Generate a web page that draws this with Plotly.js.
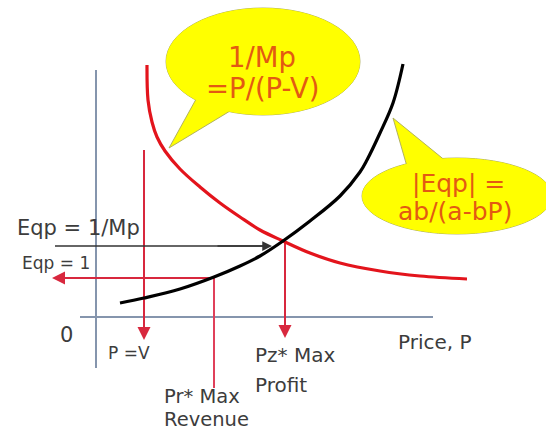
<!DOCTYPE html>
<html>
<head>
<meta charset="utf-8">
<script src="https://cdn.plot.ly/plotly-3.0.1.min.js"></script>
<style>html,body{margin:0;padding:0;background:#fff;}#chart{width:546px;height:431px;}</style>
</head>
<body>
<div id="chart"></div>
<script>
// Red curve: 1/Mp = P/(P-V)
const redP = [5.1, 5.2, 5.6, 6.1, 6.9, 8.4, 10.4, 12.4, 14.4, 16.4, 18.7, 21.4, 24.4, 28.4, 32.4, 37.1];
const redE = [25.2, 21.7, 19.5, 18.0, 16.6, 14.8, 13.0, 11.4, 10.0, 8.7, 7.6, 6.4, 5.4, 4.6, 4.1, 3.8];
// Black curve: |Eqp| = ab/(a-bP)
const blackP = [2.4, 4.8, 8.4, 11.8, 14.4, 16.4, 18.7, 21.4, 24.4, 26.4, 27.1, 28.4, 29.7, 30.7];
const blackE = [1.4, 1.9, 2.8, 4.0, 5.1, 6.1, 7.6, 9.6, 12.1, 14.5, 15.7, 18.4, 21.4, 25.3];
// Key prices and levels
const priceV = 4.8, pricePr = 11.8, pricePz = 18.9;
const levelMp = 7.1, levelOne = 3.9;
// Axis extents
const axisP = [-1.6, 33.7];
const axisE = [-5.1, 24.7];

const txt = '#3c3c3c';
const red = '#e3141c';
const arrowRed = '#d8283e';
const bubbleText = '#e35a12';
const font = '"DejaVu Sans", sans-serif';

const traces = [
  {x: [axisP[0], axisP[1]], y: [0, 0], mode: 'lines', line: {color: '#8595ad', width: 2}, hoverinfo: 'skip'},
  {x: [0, 0], y: [axisE[0], axisE[1]], mode: 'lines', line: {color: '#8595ad', width: 2}, hoverinfo: 'skip'},
  {x: [pricePr, pricePr], y: [levelOne, -7.1], mode: 'lines', line: {color: '#e0405a', width: 2}, hoverinfo: 'skip'},
  {x: [priceV, priceV], y: [16.7, -1.5], mode: 'lines', line: {color: arrowRed, width: 2}, hoverinfo: 'skip'},
  {x: [pricePz, pricePz], y: [7.4, -1.4], mode: 'lines', line: {color: arrowRed, width: 2}, hoverinfo: 'skip'},
  {x: [-4.1, 17.0], y: [levelMp, levelMp], mode: 'lines', line: {color: '#333', width: 1.5}, hoverinfo: 'skip'},
  {x: [pricePr, -3.6], y: [levelOne, levelOne], mode: 'lines', line: {color: arrowRed, width: 2}, hoverinfo: 'skip'},
  {x: redP, y: redE, mode: 'lines', line: {color: red, width: 3.2, shape: 'spline', smoothing: 1}, hoverinfo: 'skip'},
  {x: blackP, y: blackE, mode: 'lines', line: {color: '#000', width: 3.2, shape: 'spline', smoothing: 1}, hoverinfo: 'skip'}
];

function arrow(x, y, ax, ay, color, w) {
  return {x: x, y: y, ax: ax, ay: ay, xref: 'x', yref: 'y', axref: 'x', ayref: 'y',
    text: '', showarrow: true, arrowhead: 2, arrowsize: 1.3, arrowwidth: w, arrowcolor: color};
}
function label(text, x, y, size, color, anchor) {
  return {x: x, y: y, xref: 'x', yref: 'y', text: text, showarrow: false,
    xanchor: anchor || 'center', yanchor: 'middle', font: {family: font, size: size, color: color}};
}

const annotations = [
  arrow(priceV, -2.3, priceV, 0.5, arrowRed, 2),
  arrow(pricePz, -2.1, pricePz, 0.5, arrowRed, 2),
  arrow(17.6, levelMp, 12, levelMp, '#333', 1.5),
  arrow(-4.4, levelOne, 0, levelOne, arrowRed, 2),
  label('0', -3.0, -1.8, 21, txt),
  label('P =V', 3.3, -3.6, 17, txt),
  label('Pz* Max', 15.7, -3.8, 20, txt, 'left'),
  label('Profit', 15.7, -6.8, 20, txt, 'left'),
  label('Pr* Max', 6.6, -7.9, 19.5, txt, 'left'),
  label('Revenue', 6.6, -10.25, 19.5, txt, 'left'),
  label('Price, P', 30.0, -2.5, 20, txt, 'left'),
  label('Eqp = 1/Mp', -8.1, 8.9, 21, txt, 'left'),
  label('Eqp = 1', -7.6, 5.4, 17, txt, 'left'),
  label('1/Mp', 16.6, 26.0, 27.5, bubbleText),
  label('=P/(P-V)', 16.6, 22.9, 27.5, bubbleText),
  label('|Eqp| =', 36.2, 13.4, 25, bubbleText),
  label('ab/(a-bP)', 35.9, 10.6, 25, bubbleText)
];

const yellow = '#ffff00';
const edge = 'rgba(170,170,90,0.9)';
const shapes = [
  {type: 'circle', xref: 'x', yref: 'y', x0: 7.0, x1: 26.4, y0: 20.2, y1: 30.9, fillcolor: yellow, line: {color: edge, width: 1}, layer: 'below'},
  {type: 'path', xref: 'x', yref: 'y', path: 'M 10.4 22.5 L 7.3 16.9 L 13.9 20.9 Z', fillcolor: yellow, line: {color: edge, width: 1}, layer: 'below'},
  {type: 'circle', xref: 'x', yref: 'y', x0: 7.0, x1: 26.4, y0: 20.2, y1: 30.9, fillcolor: yellow, line: {width: 0}, layer: 'below'},
  {type: 'circle', xref: 'x', yref: 'y', x0: 26.6, x1: 45.6, y0: 8.3, y1: 15.9, fillcolor: yellow, line: {color: edge, width: 1}, layer: 'below'},
  {type: 'path', xref: 'x', yref: 'y', path: 'M 31.2 14.7 L 29.7 19.9 L 35.1 15.5 Z', fillcolor: yellow, line: {color: edge, width: 1}, layer: 'below'},
  {type: 'circle', xref: 'x', yref: 'y', x0: 26.6, x1: 45.6, y0: 8.3, y1: 15.9, fillcolor: yellow, line: {width: 0}, layer: 'below'}
];

const layout = {
  width: 546, height: 431,
  margin: {l: 0, r: 0, t: 0, b: 0},
  paper_bgcolor: '#fff', plot_bgcolor: '#fff',
  showlegend: false,
  xaxis: {range: [-9.6, 45.0], visible: false, fixedrange: true},
  yaxis: {range: [-11.4, 31.7], visible: false, fixedrange: true},
  shapes: shapes,
  annotations: annotations
};

Plotly.newPlot('chart', traces, layout, {displayModeBar: false, staticPlot: true});
</script>
</body>
</html>
